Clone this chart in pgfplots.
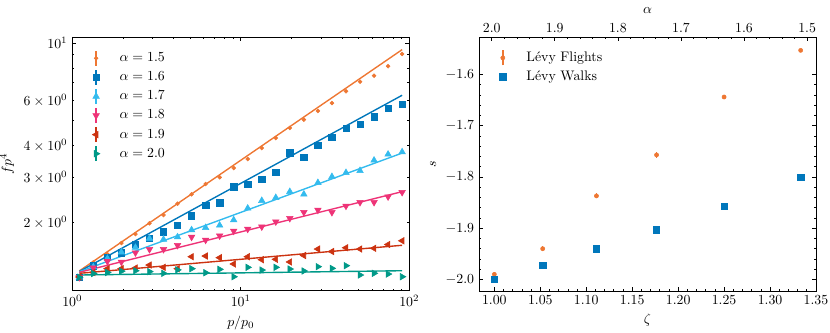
\documentclass[border=0pt]{standalone}
\usepackage{pgfplots}
\usepackage{pgfplotstable}
\pgfplotsset{compat=1.18}

\definecolor{cOr}{HTML}{EE7733}
\definecolor{cBl}{HTML}{0077BB}
\definecolor{cCy}{HTML}{33BBEE}
\definecolor{cMa}{HTML}{EE3377}
\definecolor{cRe}{HTML}{CC3311}
\definecolor{cTe}{HTML}{009988}

% f p^4 against p/p0, one column per alpha
\pgfplotstableread{
x     a15   a16   a17   a18   a19   a20
1.100 1.240 1.225 1.225 1.225 1.229 1.225
1.333 1.400 1.360 1.344 1.336 1.280 1.268
1.615 1.510 1.466 1.450 1.414 1.324 1.280
1.956 1.666 1.528 1.535 1.406 1.324 1.295
2.370 1.806 1.652 1.600 1.528 1.332 1.300
2.871 1.988 1.739 1.735 1.575 1.368 1.290
3.478 2.141 1.844 1.720 1.575 1.340 1.270
4.213 2.370 1.958 1.758 1.633 1.324 1.310
5.104 2.578 2.128 1.873 1.758 1.474 1.324
6.183 2.828 2.343 1.911 1.712 1.483 1.277
7.490 3.002 2.391 1.953 1.779 1.461 1.316
9.074 3.263 2.760 2.048 1.856 1.381 1.232
10.99 3.537 2.819 2.274 1.889 1.474 1.340
13.32 3.903 2.949 2.435 1.928 1.435 1.308
16.13 4.269 3.141 2.501 2.017 1.440 1.340
19.54 4.670 3.743 2.639 2.079 1.406 1.320
23.67 5.030 3.601 2.578 2.194 1.490 1.297
28.68 5.440 3.999 2.860 2.240 1.579 1.348
34.74 5.840 4.308 3.018 2.194 1.544 1.328
42.09 6.490 4.670 3.128 2.322 1.597 1.360
50.99 7.070 4.838 3.185 2.400 1.579 1.251
61.77 7.460 5.168 3.496 2.400 1.589 1.270
74.83 8.120 5.570 3.689 2.523 1.644 1.262
90.65 9.060 5.774 3.766 2.625 1.700 1.232
}\fpdata

\pgfplotsset{
  sci/.style={
    scale only axis, width=3.37in, height=2.537in,
    tick align=inside, major tick length=3pt, minor tick length=1.5pt,
    every tick/.style={black, line width=0.5pt},
    axis line style={line width=0.5pt},
    legend cell align=left,
  },
  errleg/.style={legend image code/.code={
      \path[draw=none] (0,0) -- (0.68cm,0);
      \draw[##1, line width=1pt] (0.15cm,-0.19cm) -- (0.15cm,0.19cm);
      \draw[##1] plot coordinates {(0.15cm,0cm)};
  }},
  plainleg/.style={legend image code/.code={
      \path[draw=none] (0,0) -- (0.68cm,0);
      \draw[##1] plot coordinates {(0.15cm,0cm)};
  }},
  fit/.style={no marks, line width=1pt, forget plot},
}

\begin{document}
\begin{tikzpicture}
\path[use as bounding box] (0,0) rectangle (8.3in,3.33in);

% left panel
\begin{axis}[sci, at={(0.723in,0.423in)}, anchor=south west,
  xmode=log, ymode=log,
  xmin=1, xmax=100, ymin=1.087, ymax=10.55,
  xtick={1,10,100}, xticklabels={$10^0$,$10^1$,$10^2$},
  minor xtick={2,3,4,5,6,7,8,9,20,30,40,50,60,70,80,90},
  ytick={10}, yticklabels={$10^1$},
  minor ytick={2,3,4,5,6,7,8,9},
  extra y ticks={2,3,4,6},
  extra y tick labels={$2\times10^0$,$3\times10^0$,$4\times10^0$,$6\times10^0$},
  extra y tick style={major tick length=1.5pt},
  xlabel={$p/p_0$}, ylabel={$fp^4$},
  legend style={at={(0.04,0.965)}, anchor=north west, draw=none, fill=none,
    row sep=1.1pt},
]
\addplot[errleg, only marks, mark=*, mark size=1.4pt, color=cOr] table[y=a15] {\fpdata};
\addlegendentry{$\alpha = 1.5$}
\addplot[fit, cOr] coordinates {(1.1,1.297) (90.65,9.42)};
\addplot[errleg, only marks, mark=square*, mark size=2.3pt, color=cBl] table[y=a16] {\fpdata};
\addlegendentry{$\alpha = 1.6$}
\addplot[fit, cBl] coordinates {(1.1,1.291) (90.65,6.26)};
\addplot[errleg, only marks, mark=triangle*, mark size=2.7pt, color=cCy] table[y=a17] {\fpdata};
\addlegendentry{$\alpha = 1.7$}
\addplot[fit, cCy] coordinates {(1.1,1.288) (90.65,3.73)};
\addplot[errleg, only marks, mark=triangle*, mark size=2.7pt, mark options={rotate=180}, color=cMa] table[y=a18] {\fpdata};
\addlegendentry{$\alpha = 1.8$}
\addplot[fit, cMa] coordinates {(1.1,1.282) (90.65,2.64)};
\addplot[errleg, only marks, mark=triangle*, mark size=2.7pt, mark options={rotate=90}, color=cRe] table[y=a19] {\fpdata};
\addlegendentry{$\alpha = 1.9$}
\addplot[fit, cRe] coordinates {(1.1,1.270) (90.65,1.633)};
\addplot[errleg, only marks, mark=triangle*, mark size=2.7pt, mark options={rotate=-90}, color=cTe] table[y=a20] {\fpdata};
\addlegendentry{$\alpha = 2.0$}
\addplot[fit, cTe] coordinates {(1.1,1.251) (90.65,1.300)};
\end{axis}

% right panel, bottom axis zeta
\begin{axis}[sci, at={(4.79in,0.42in)}, anchor=south west,
  xmin=0.9833, xmax=1.35, ymin=-2.0225, ymax=-1.5275,
  xtick={1.00,1.05,1.10,1.15,1.20,1.25,1.30,1.35},
  ytick={-2.0,-1.9,-1.8,-1.7,-1.6},
  minor x tick num=4, minor y tick num=4,
  xtick pos=left,
  xticklabel style={/pgf/number format/.cd, fixed, fixed zerofill, precision=2},
  yticklabel style={/pgf/number format/.cd, fixed, fixed zerofill, precision=1},
  xlabel={$\zeta$}, ylabel={$s$},
  legend style={at={(0.04,0.965)}, anchor=north west, draw=none, fill=none,
    row sep=1.1pt},
]
\addplot[errleg, only marks, mark=*, mark size=1.5pt, color=cOr,
  error bars/.cd, y dir=both, y explicit, error mark=none,
  error bar style={line width=1pt}]
  coordinates {
  (1.0000,-1.990) +- (0,0.005)
  (1.0526,-1.940) +- (0,0.005)
  (1.1111,-1.837) +- (0,0.005)
  (1.1765,-1.757) +- (0,0.006)
  (1.2500,-1.644) +- (0,0.004)
  (1.3333,-1.553) +- (0,0.003)
  };
\addlegendentry{L\'evy Flights}
\addplot[plainleg, only marks, mark=square*, mark size=2.3pt, color=cBl]
  coordinates {
  (1.0000,-2.000)
  (1.0526,-1.972)
  (1.1111,-1.940)
  (1.1765,-1.903)
  (1.2500,-1.857)
  (1.3333,-1.800)
  };
\addlegendentry{L\'evy Walks}
\end{axis}

% right panel, top axis alpha
\begin{axis}[sci, at={(4.79in,0.42in)}, anchor=south west,
  xmin=1.4859, xmax=2.0201, x dir=reverse, ymin=0, ymax=1,
  xtick={1.5,1.6,1.7,1.8,1.9,2.0}, minor x tick num=4,
  xtick pos=right, xticklabel pos=right, ytick=\empty,
  xticklabel style={/pgf/number format/.cd, fixed, fixed zerofill, precision=1},
  xlabel={$\alpha$},
]
\end{axis}
\end{tikzpicture}
\end{document}
